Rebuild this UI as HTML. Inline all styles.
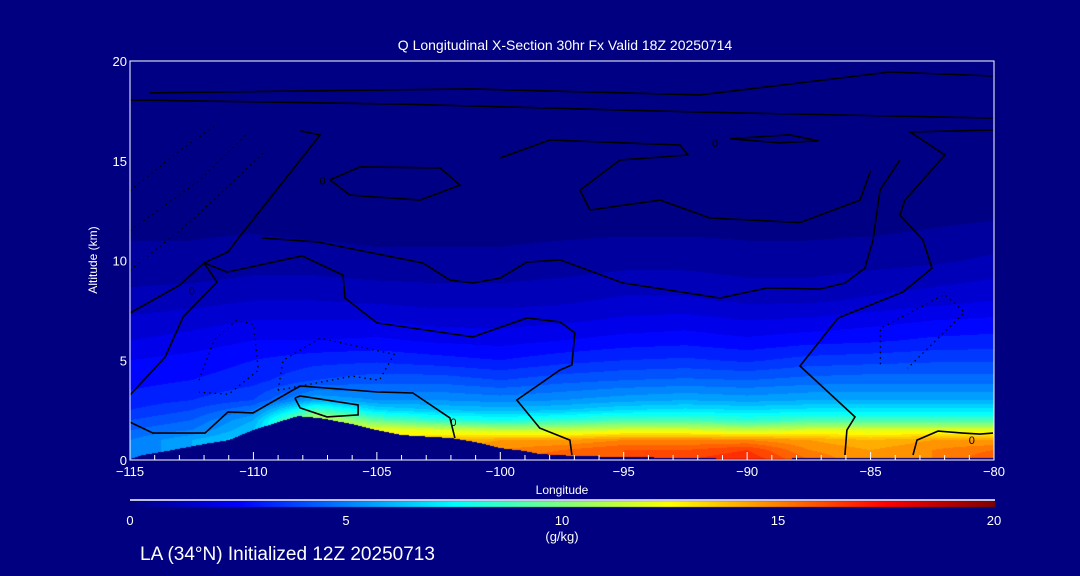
<!DOCTYPE html>
<html><head><meta charset="utf-8">
<style>
html,body{margin:0;padding:0;background:#000080;}
#wrap{position:relative;width:1080px;height:576px;background:#000080;overflow:hidden;font-family:"Liberation Sans",sans-serif;color:#fff;}
canvas{position:absolute;left:0;top:0;}
svg{position:absolute;left:0;top:0;}
</style></head>
<body>
<div id="wrap">
<canvas id="field" width="1080" height="576"></canvas>
<svg id="svg" width="1080" height="576">
<text x="565" y="50" text-anchor="middle" font-size="14" fill="#fff">Q Longitudinal X-Section 30hr  Fx Valid 18Z 20250714</text>
<text x="97" y="260" text-anchor="middle" font-size="12" fill="#fff" transform="rotate(-90 97 260)">Altitude (km)</text>
<text x="562" y="494" text-anchor="middle" font-size="12" fill="#fff">Longitude</text>
<text x="562" y="541" text-anchor="middle" font-size="13" fill="#fff">(g/kg)</text>
<text x="140" y="560" font-size="19" fill="#fff">LA (34°N) Initialized 12Z 20250713</text>
<g id="contours"></g>
<g id="axes"></g>
</svg>
</div>
<script>
// ---- data ----
const lons = [-115,-112.5,-110,-107.5,-105,-102.5,-100,-97.5,-95,-92.5,-90,-87.5,-85,-82.5,-80];
const alts = [0,0.5,1,1.5,2,2.5,3,4,5,6,7,8,10,12,15,20];
const qCols = [
 [5,5,5,4.5,4,3.5,3.2,2.8,2.5,2,1.6,1.2,0.6,0.4,0.3,0.1],
 [6,6,6,5,4.5,4,3.5,3,2.7,2.2,1.8,1.3,0.6,0.4,0.3,0.1],
 [7,7,7,6.5,6,5,4,3.3,3,2.5,2,1.5,0.7,0.4,0.2,0.1],
 [12,12,12,12,12,9,6,4,3.3,2.5,2,1.5,0.7,0.3,0.2,0.1],
 [13,13,13,12.5,9.5,7,5.5,4.3,3.4,2.6,2,1.4,0.6,0.3,0.2,0.1],
 [14.5,14.5,14,12,8.5,6.5,5.5,4.3,3.2,2.4,1.8,1.3,0.6,0.3,0.2,0.1],
 [15.5,15,14.5,11.5,8,6.3,5.3,4,3,2.3,1.8,1.3,0.6,0.3,0.15,0.05],
 [16,15.5,14.5,11.5,8.5,6.5,5.5,4.3,3.3,2.5,1.9,1.4,0.7,0.3,0.15,0.05],
 [16,16,15,12,9,7,5.8,4.5,3.5,2.7,2.1,1.6,0.8,0.3,0.15,0.05],
 [16.5,16,15,12,9,7.2,6,4.6,3.6,2.8,2.2,1.6,0.8,0.3,0.15,0.05],
 [17,16.5,15,11.5,8.5,7,5.8,4.5,3.4,2.6,2,1.4,0.7,0.3,0.15,0.05],
 [15.5,15,14.5,12,9,7.2,6,4.7,3.7,2.8,2.1,1.4,0.7,0.3,0.15,0.05],
 [14.5,14.5,14,12,9,7.2,6,4.8,3.8,2.9,2.3,1.6,0.8,0.3,0.15,0.05],
 [15,15,14.5,12,9,7.2,6,4.8,3.9,3.1,2.5,1.8,0.9,0.4,0.15,0.05],
 [16,15.5,14.5,12,9,7.2,6,4.8,3.9,3.2,2.6,2,1.1,0.5,0.2,0.05]
];
const terrainLon = [-115,-114.5,-113.5,-112,-111,-110,-109,-108.2,-107.3,-106,-105,-104,-102,-101,-100,-99,-98.4,-97,-95,-90,-85,-80];
const terrainAlt = [0.05,0.25,0.45,0.8,1.0,1.5,1.9,2.2,2.1,1.8,1.5,1.25,1.1,0.9,0.6,0.45,0.3,0.2,0.15,0.05,0.12,0.1];
const xTicks = [-115,-110,-105,-100,-95,-90,-85,-80];
const xTickLabels = ["\u2212115","\u2212110","\u2212105","\u2212100","\u221295","\u221290","\u221285","\u221280"];
const yTicks = [0,5,10,15,20];
const cbTicks = [0,5,10,15,20];
const contours = [
 {dash:false,pts:[[-112.0,9.88],[-111.07,9.42],[-108.03,10.23],[-106.37,9.27],[-106.29,8.12],[-105.0,6.87],[-101.11,6.17],[-98.92,7.12],[-97.58,6.92],[-96.98,6.37],[-97.10,4.76],[-97.58,4.51],[-99.33,3.01],[-98.40,1.60],[-97.18,1.00],[-97.10,0.25]]},
 {dash:false,pts:[[-115,3.26],[-113.58,5.16],[-112.85,7.17],[-111.48,8.92],[-112.0,9.88],[-111.03,10.43],[-110.67,11.03],[-107.30,16.29],[-108.1,16.5]]},
 {dash:false,pts:[[-115,7.37],[-112.98,8.77],[-112.0,9.88]]},
 {dash:false,pts:[[-109.65,11.13],[-107.42,10.93],[-103.13,9.87],[-102.04,9.02],[-101.11,8.87],[-100.01,9.12],[-98.92,9.92],[-97.58,10.03],[-95.03,8.87],[-91.10,8.12],[-89.20,8.62],[-87.05,8.57],[-86.04,8.87],[-85.23,9.62],[-84.90,11.03],[-84.62,13.53],[-83.81,15.04]]},
 {dash:false,pts:[[-80.04,16.54],[-83.40,16.44],[-81.99,15.29],[-83.61,13.03],[-83.81,12.28],[-82.88,11.03],[-82.51,9.62],[-83.0,9.12],[-83.69,8.42],[-86.32,7.12],[-87.86,4.71],[-85.63,2.16],[-85.96,1.50],[-86.04,0.25]]},
 {dash:false,pts:[[-106.90,14.04],[-105.68,14.69],[-102.44,14.64],[-101.63,13.78],[-103.25,13.03],[-106.09,13.28],[-106.90,14.04]]},
 {dash:false,pts:[[-100.01,15.14],[-97.99,16.04],[-92.72,15.79],[-92.40,15.29],[-95.15,15.04],[-96.77,13.53],[-96.37,12.53],[-93.53,13.03],[-91.51,12.13],[-87.86,11.9],[-85.43,13.03],[-85.0,14.5]]},
 {dash:false,pts:[[-114.2,18.4],[-101.23,18.6],[-91.91,18.3],[-84.22,19.45],[-80.05,19.25]]},
 {dash:false,pts:[[-115,18.05],[-104.07,17.84],[-91.91,17.44],[-80.05,17.14]]},
 {dash:false,pts:[[-90.7,16.1],[-88.3,16.3],[-87.1,16.0],[-88.7,15.9],[-90.7,16.1]]},
 {dash:false,pts:[[-115,1.90],[-114.07,1.35],[-111.96,1.35],[-111.03,2.41],[-110.02,2.36],[-108.11,3.71],[-104.99,3.41],[-103.54,3.36],[-102.04,2.11],[-101.84,1.10]]},
 {dash:false,pts:[[-108.32,3.11],[-108.11,3.21],[-105.76,2.76],[-105.76,2.26],[-107.02,2.16],[-108.11,2.61],[-108.32,3.11]]},
 {dash:false,pts:[[-83.28,0.25],[-83.12,1.0],[-82.27,1.45],[-81.26,1.35],[-80.57,1.30],[-80.04,1.35]]},
 {dash:true,pts:[[-115,9.5],[-112.5,12],[-109.5,15.5]]},
 {dash:true,pts:[[-115,11.5],[-112.2,14],[-110.3,16.3]]},
 {dash:true,pts:[[-115,13.5],[-113,15.5],[-111.5,16.8]]},
 {dash:true,pts:[[-112.2,4.0],[-111.6,6.0],[-110.7,7.0],[-110.0,6.8],[-109.8,4.5],[-111.0,3.3],[-112.2,3.4]]},
 {dash:true,pts:[[-109.0,3.5],[-108.8,5.0],[-107.3,6.1],[-104.3,5.3],[-104.9,4.0],[-106.0,4.2],[-109.0,3.5]]},
 {dash:true,pts:[[-84.6,4.8],[-84.6,6.6],[-82.0,8.3],[-81.2,7.4],[-83.5,4.6]]}
];
// ---- axis functions ----
const X0=130,X1=994,Y0=460,Y1=61;
const xs = lon => X0+(lon+115)/35*(X1-X0);
const ys = alt => Y0-alt/20*(Y0-Y1);
function jet(t){t=Math.max(0,Math.min(1,t));
 const r=Math.max(0,Math.min(1,Math.min(4*t-1.5,-4*t+4.5)));
 const g=Math.max(0,Math.min(1,Math.min(4*t-0.5,-4*t+3.5)));
 const b=Math.max(0,Math.min(1,Math.min(4*t+0.5,-4*t+2.5)));
 return [Math.round(r*255),Math.round(g*255),Math.round(b*255)];}
function interp(xa,ya,v){ if(v<=xa[0])return ya[0]; for(let i=1;i<xa.length;i++){ if(v<=xa[i]){const f=(v-xa[i-1])/(xa[i]-xa[i-1]);return ya[i-1]+f*(ya[i]-ya[i-1]);}} return ya[ya.length-1];}
function qAt(lon,alt){
 let i=0; while(i<lons.length-2 && lon>lons[i+1]) i++;
 const f=Math.max(0,Math.min(1,(lon-lons[i])/(lons[i+1]-lons[i])));
 const a=interp(alts,qCols[i],alt), b=interp(alts,qCols[i+1],alt);
 return a+f*(b-a);}
// ---- field ----
const ctx=document.getElementById('field').getContext('2d');
const W=X1-X0,H=Y0-Y1;
const img=ctx.createImageData(W,H);
for(let py=0;py<H;py++){ const alt=(Y0-(Y1+py+0.5))/(Y0-Y1)*20;
 for(let px=0;px<W;px++){ const lon=-115+(px+0.5)/W*35;
  let col;
  if(alt<interp(terrainLon,terrainAlt,lon)) col=[0,0,128];
  else { let q=qAt(lon,alt); q=Math.floor(q*2)/2+0.1; col=jet(q/20);}
  const k=(py*W+px)*4; img.data[k]=col[0];img.data[k+1]=col[1];img.data[k+2]=col[2];img.data[k+3]=255;}}
ctx.putImageData(img,X0,Y1);
// colorbar
for(let px=0;px<=X1-X0;px++){ const c=jet(px/(X1-X0)); ctx.fillStyle=`rgb(${c[0]},${c[1]},${c[2]})`; ctx.fillRect(X0+px,501,1,6);}
// ---- svg overlay ----
const NS='http://www.w3.org/2000/svg';
const cg=document.getElementById('contours');
contours.forEach((c,idx)=>{
 const p=document.createElementNS(NS,'polyline');
 p.setAttribute('points',c.pts.map(d=>xs(d[0]).toFixed(1)+','+ys(d[1]).toFixed(1)).join(' '));
 p.setAttribute('fill','none');p.setAttribute('stroke','#000');
 p.setAttribute('stroke-width',c.dash?'1.3':'1.6');
 if(c.dash)p.setAttribute('stroke-dasharray','1.5 4');
 
 
 cg.appendChild(p);});
const ag=document.getElementById('axes');
function mk(tag,attrs){const e=document.createElementNS(NS,tag);for(const k in attrs)e.setAttribute(k,attrs[k]);ag.appendChild(e);return e;}
const frame=mk('rect',{x:X0,y:Y1,width:X1-X0,height:Y0-Y1,fill:'none',stroke:'#fff','stroke-width':1});


for(let l=-115;l<=-80;l++){
 const major=(l%5===0);
 const t=mk('line',{x1:xs(l),x2:xs(l),y1:Y0,y2:Y0-(major?8:5),stroke:'#fff','stroke-width':1});
 
 }
xTicks.forEach((v,i)=>{
 const t=mk('text',{x:xs(v),y:476,'text-anchor':'middle','font-size':13,fill:'#fff'});t.textContent=xTickLabels[i];
 
 });
yTicks.forEach(v=>{
 const t=mk('text',{x:127,y:ys(v)+5,'text-anchor':'end','font-size':13,fill:'#fff'});t.textContent=String(v);
 
 });
const cbl=mk('line',{x1:X0,x2:X1+1,y1:500,y2:500,stroke:'#fff','stroke-width':1.5});


cbTicks.forEach(v=>{
 const t=mk('text',{x:X0+v/20*(X1-X0),y:525,'text-anchor':'middle','font-size':13,fill:'#fff'});t.textContent=String(v);
 
 });
[[-107.2,14.0],[-91.3,15.9],[-80.9,1.0],[-101.9,1.9],[-112.5,8.5]].forEach(d=>{
 const t=mk('text',{x:xs(d[0]),y:ys(d[1])+4,'text-anchor':'middle','font-size':11,fill:'#000'});t.textContent='0';
 
 });
</script>
</body></html>
